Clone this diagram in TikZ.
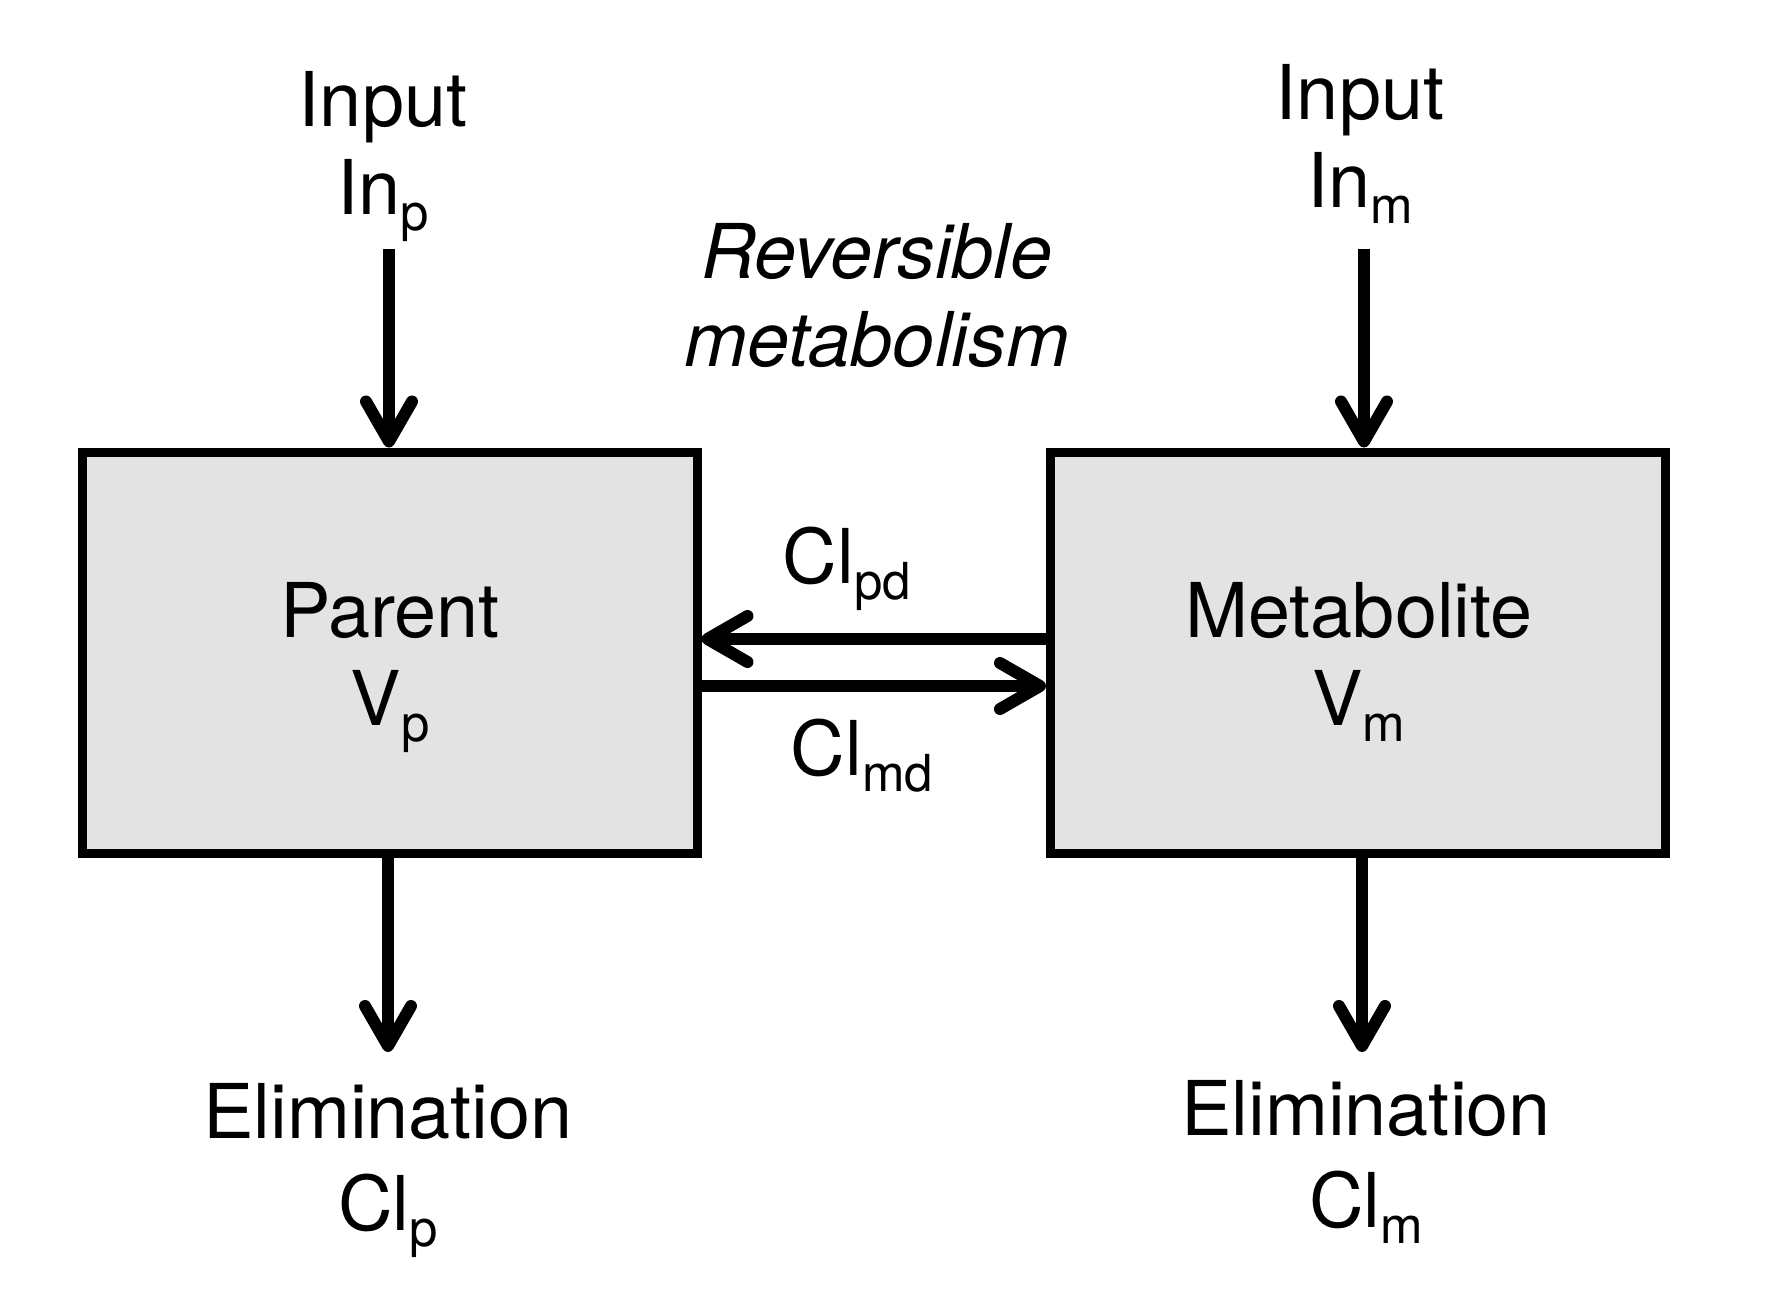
\documentclass[tikz,border=0pt]{standalone}
\usepackage{fontspec}
\setmainfont{TeX Gyre Heros}
\usetikzlibrary{arrows.meta}
\definecolor{boxgray}{HTML}{E3E3E3}
\newcommand{\sbx}[1]{\raisebox{-8pt}{\fontsize{25.5}{25.5}\selectfont #1}}
\begin{document}
\begin{tikzpicture}[x=0.5pt,y=-0.5pt,
  box/.style={draw=black, line width=4.5pt, fill=boxgray, minimum width=307.5pt,
    minimum height=200.5pt, inner sep=0pt, outer sep=2.25pt},
  lbl/.style={align=center, anchor=base, inner sep=0pt, outer sep=0pt,
    font=\fontsize{37.8}{44}\selectfont},
  ilbl/.style={lbl, font=\fontsize{37.8}{44}\selectfont\itshape},
  elbl/.style={lbl, font=\fontsize{37.8}{46}\selectfont},
  arr/.style={line width=6pt, -{Straight Barb[length=20pt, width=23pt, line cap=round, line join=round]}}
]
\useasboundingbox (0,0) rectangle (1772,1300);
\node[box] (parent) at (389.5,652.5) {};
\node[box] (metab) at (1358,652.5) {};
\node[lbl] (parentT) at (390,725) {Parent\\V\sbx{p}};
\node[lbl] (metabT) at (1359,725) {Metabolite\\V\sbx{m}};
\node[lbl] (inPT) at (383,215) {Input\\In\sbx{p}};
\node[lbl] (inMT) at (1360,208) {Input\\In\sbx{m}};
\node[ilbl] (rev) at (877,366) {Reversible\\metabolism};
\node[lbl] (clpd) at (847,583) {Cl\sbx{pd}};
\node[lbl] (clmd) at (862,775) {Cl\sbx{md}};
\node[elbl] (elPT) at (388,1230) {Elimination\\Cl\sbx{p}};
\node[elbl] (elMT) at (1366,1227) {Elimination\\Cl\sbx{m}};
\coordinate (inP) at (389,249);
\coordinate (inM) at (1364,249);
\coordinate (elP) at (388,1052);
\coordinate (elM) at (1362,1052);
\coordinate (hA) at (0,639);
\coordinate (hB) at (0,686);
\draw[arr] (inP) -- (inP |- parent.north);
\draw[arr] (inM) -- (inM |- metab.north);
\draw[arr] (elP |- parent.south) -- (elP);
\draw[arr] (elM |- metab.south) -- (elM);
\draw[arr] (metab.west |- hA) -- (parent.east |- hA);
\draw[arr] (parent.east |- hB) -- (metab.west |- hB);
\end{tikzpicture}
\end{document}
